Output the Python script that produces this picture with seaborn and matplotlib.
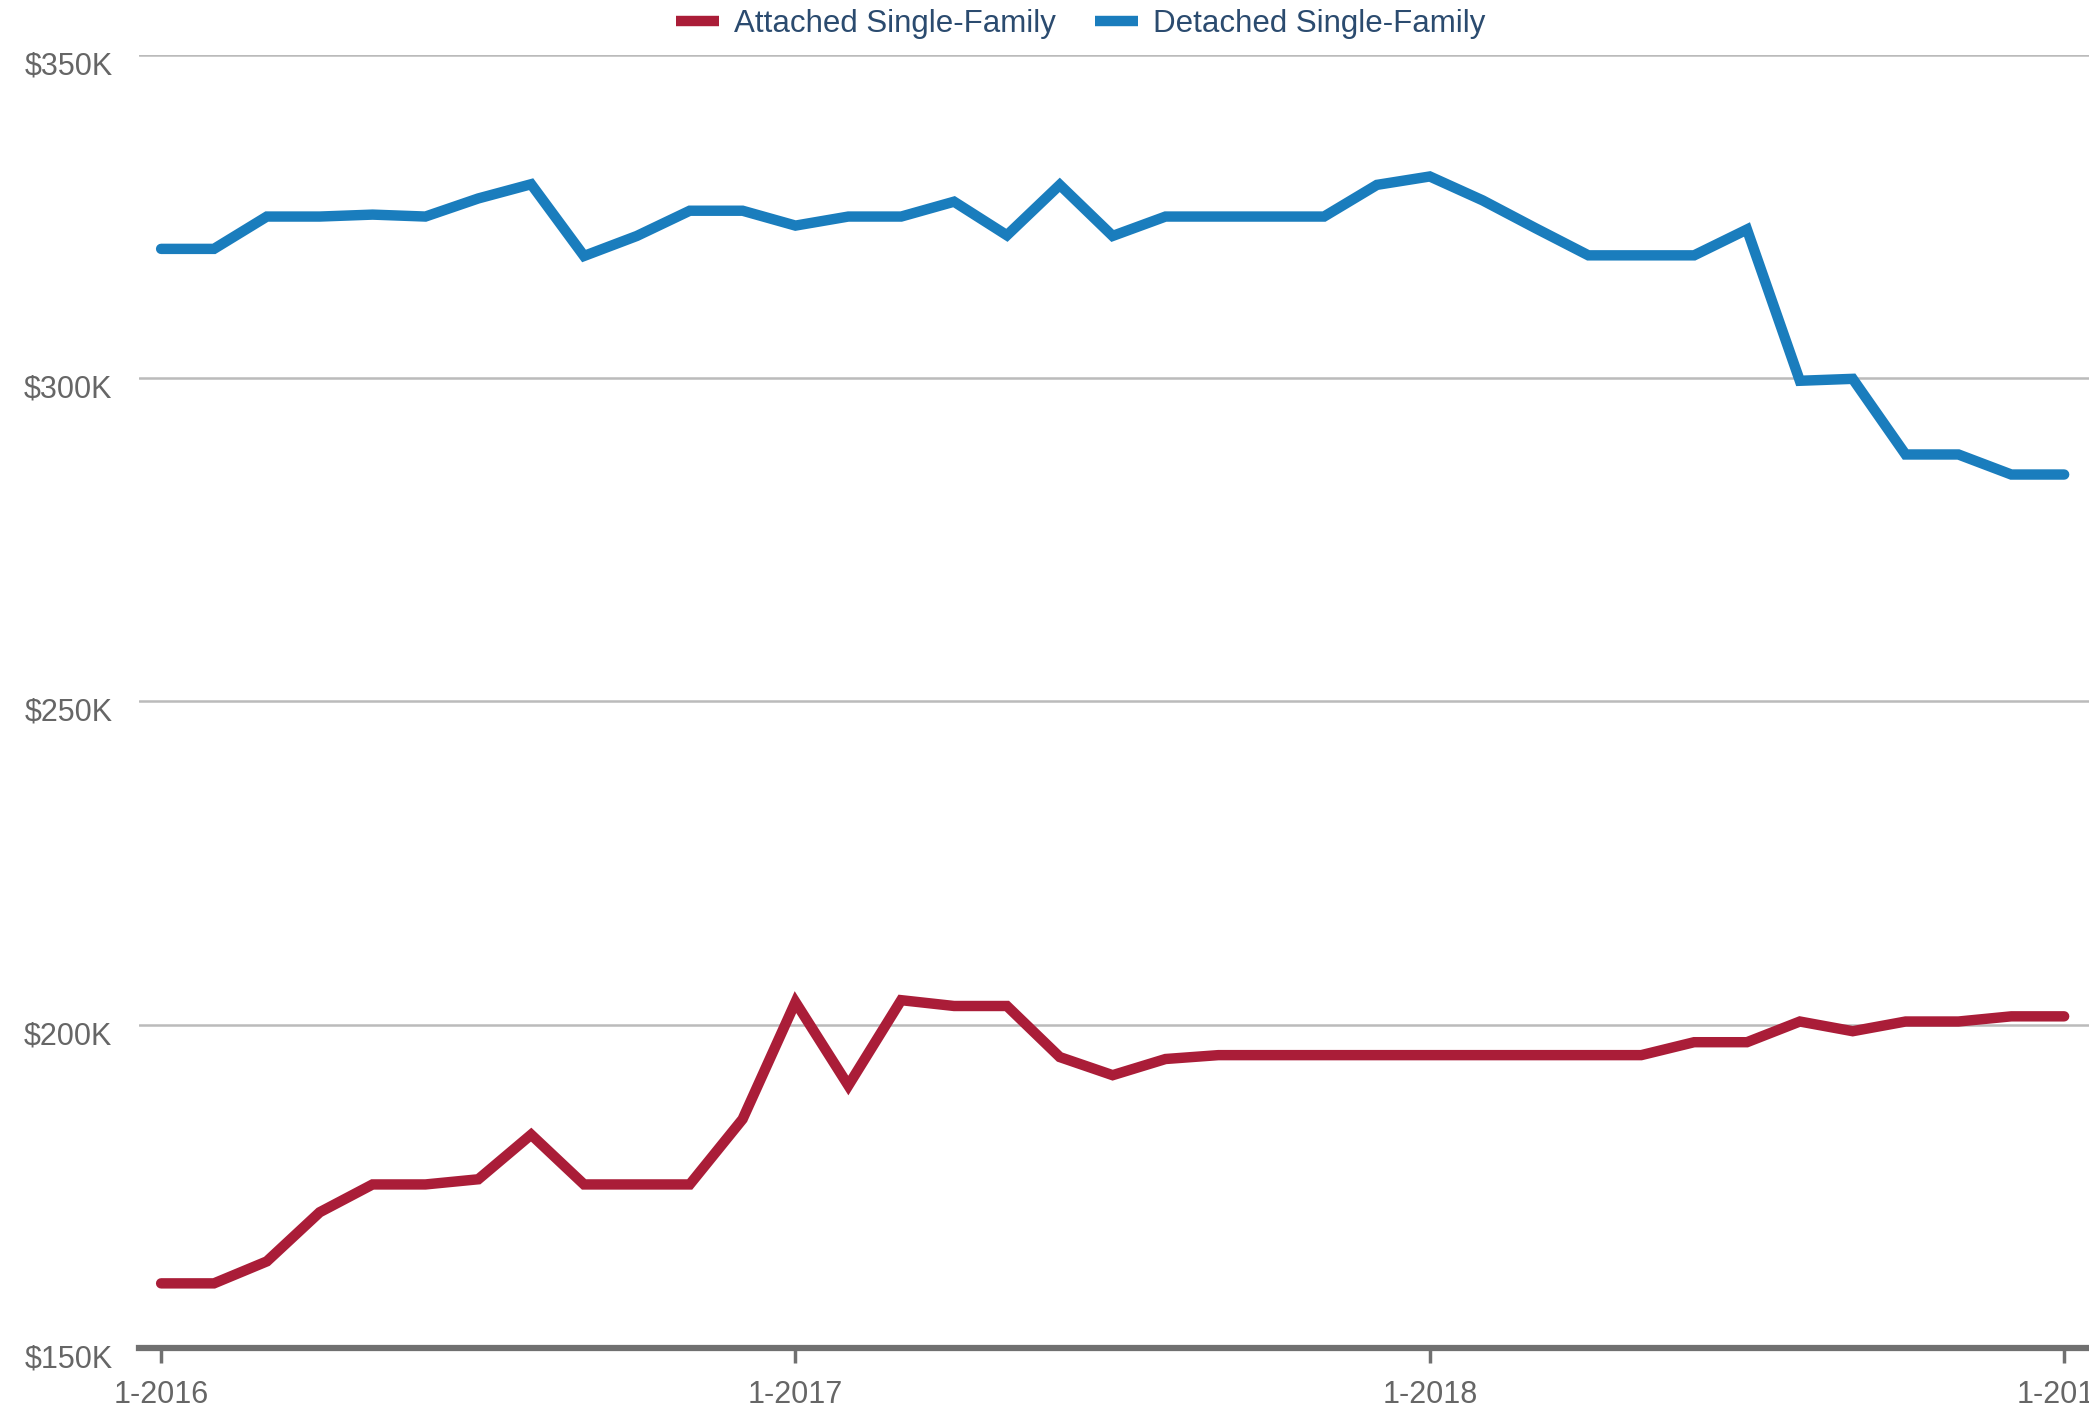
import matplotlib
matplotlib.use("Agg")
import matplotlib.pyplot as plt
import matplotlib.transforms as mtransforms
from matplotlib.lines import Line2D
import seaborn as sns
import pandas as pd

# Median sale price by month, Jan 2016 .. Jan 2019 (in $K)
month_index = list(range(37))
attached = [160, 160, 163.4, 171, 175.3, 175.3, 176.1, 183, 175.3, 175.3, 175.3, 185.4,
            203.5, 190.6, 203.8, 202.9, 202.9, 195, 192.2, 194.7, 195.3, 195.3, 195.3, 195.3,
            195.3, 195.3, 195.3, 195.3, 195.3, 197.3, 197.3, 200.5, 199, 200.5, 200.5, 201.3,
            201.3]
detached = [320, 320, 325, 325, 325.3, 325, 327.8, 330, 318.9, 322, 325.9, 325.9,
            323.6, 325, 325, 327.3, 322.1, 329.9, 322, 325, 325, 325, 325, 329.9,
            331.2, 327.5, 323.2, 319, 319, 319, 323, 299.6, 299.9, 288.2, 288.2, 285.1,
            285.1]
series_names = ["Attached Single-Family", "Detached Single-Family"]
series_colors = {"Attached Single-Family": "#AA1D38", "Detached Single-Family": "#1A7DBD"}
x_tick_pos = [0, 12, 24, 36]
x_tick_labels = ["1-2016", "1-2017", "1-2018", "1-2019"]
y_ticks = [150, 200, 250, 300, 350]
y_tick_labels = ["$150K", "$200K", "$250K", "$300K", "$350K"]

df = pd.DataFrame({
    "month": month_index * 2,
    "price": attached + detached,
    "type": [series_names[0]] * len(attached) + [series_names[1]] * len(detached),
})

sns.set_style("white")
plt.rcParams["font.family"] = ["Liberation Sans", "DejaVu Sans"]

fig = plt.figure(figsize=(20.89, 14.08), dpi=100)
ax = fig.add_axes([0.0665, 0.0426, 0.9335, 0.9184])

sns.lineplot(data=df, x="month", y="price", hue="type", hue_order=series_names,
             palette=series_colors, linewidth=7.5, solid_capstyle="round",
             solid_joinstyle="miter", legend=False, ax=ax, zorder=3)

ax.set_xlim(-0.42, 36.47)
ax.set_ylim(150, 350)
ax.set_xticks(x_tick_pos)
ax.set_xticklabels(x_tick_labels)
ax.set_yticks(y_ticks)
ax.set_yticklabels(y_tick_labels)
ax.set_xlabel("")
ax.set_ylabel("")

# grid and spines
ax.yaxis.grid(True, color="#BBBBBB", linewidth=1.8)
ax.xaxis.grid(False)
for side in ["top", "right", "left"]:
    ax.spines[side].set_visible(False)
ax.spines["bottom"].set_color("#707070")
ax.spines["bottom"].set_linewidth(4.5)
ax.spines["bottom"].set_zorder(4)

ax.tick_params(axis="x", bottom=True, direction="out", length=11, width=2.5, color="#707070",
               pad=12, labelsize=22, labelcolor="#666666")
ax.tick_params(axis="y", left=False, length=0, pad=19, labelsize=22, labelcolor="#666666")

# y labels sit slightly below their grid lines
offset = mtransforms.ScaledTranslation(0, -0.08, fig.dpi_scale_trans)
for lbl in ax.get_yticklabels():
    lbl.set_transform(lbl.get_transform() + offset)

handles = [Line2D([0], [0], color=series_colors[n], linewidth=7.5, solid_capstyle="butt")
           for n in series_names]
leg = fig.legend(handles, series_names, loc="center", bbox_to_anchor=(0.5175, 0.983),
                 ncol=2, frameon=False, fontsize=22.5, handlelength=1.38,
                 handletextpad=0.48, columnspacing=1.25, borderpad=0)
for t in leg.get_texts():
    t.set_color("#2B4B6F")

fig.savefig("out.png", dpi=100)
